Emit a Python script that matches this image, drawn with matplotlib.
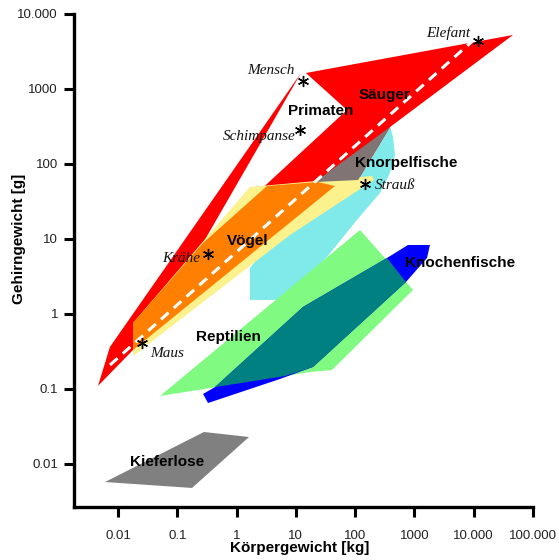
import matplotlib
matplotlib.use("Agg")
import matplotlib.pyplot as plt
from matplotlib.ticker import FixedLocator, NullLocator

# Koerpergewicht [kg] / Gehirngewicht [g] - Eckpunkte der Bereiche
saeuger_kg = [0.0046, 0.0073, 12.2, 0.272, 72.8, 14.8, 45900, 387, 112, 45.7, 0.0179]
saeuger_g = [0.11, 0.363, 1634, 8.85, 525, 1634, 5250, 311, 61.2, 50.9, 0.331]

voegel_kg = [0.0179, 0.0179, 1.68, 192, 208, 7.96]
voegel_g = [0.275, 0.759, 49.4, 69.2, 61.2, 11.3]

# Vögel im Säuger-Bereich (Überlappung)
ueberlapp_vs_kg = [0.0179, 0.0179, 0.272, 3.26, 23.6, 45.7]
ueberlapp_vs_g = [0.331, 0.759, 8.85, 50.9, 57.5, 50.9]

knorpel_kg = [1.68, 5.4, 33.5, 107, 262, 387, 470, 435, 387, 21.0, 1.68]
knorpel_g = [1.54, 1.54, 5.75, 17.9, 41.1, 75.9, 132, 229, 321, 57.5, 4.10]

ueberlapp_ks_kg = [387, 21.0, 112]
ueberlapp_ks_g = [311, 57.5, 61.2]

reptilien_kg = [0.0511, 5.4, 17.3, 40.6, 945, 121]
reptilien_g = [0.0807, 0.1445, 0.1686, 0.179, 2.09, 13.2]

knochen_kg = [0.272, 0.33, 5.4, 19.5, 719, 1630, 1828, 778, 344, 13.2, 0.432]
knochen_g = [0.0858, 0.065, 0.136, 0.197, 2.67, 5.58, 8.32, 8.32, 5.58, 1.24, 0.106]

ueberlapp_rk_kg = [0.432, 13.2, 344, 719, 19.5, 6.56]
ueberlapp_rk_g = [0.106, 1.24, 5.58, 2.67, 0.197, 0.149]

kieferlose_kg = [0.00604, 0.282, 1.62, 0.177]
kieferlose_g = [0.00575, 0.0267, 0.0229, 0.00479]

linie_kg = [0.00733, 11350]
linie_g = [0.209, 4935]

tiere = ["Maus", "Krähe", "Schimpanse", "Mensch", "Elefant", "Strauß"]
tiere_kg = [0.0254, 0.33, 11.7, 13.2, 11800, 147]
tiere_g = [0.41, 6.31, 284, 1280, 4365, 54.1]

gruppen = ["Säuger", "Primaten", "Knorpelfische", "Vögel", "Knochenfische", "Reptilien", "Kieferlose"]

x_ticks = [0.01, 0.1, 1, 10, 100, 1000, 10000, 100000]
x_labels = ["0.01", "0.1", "1", "10", "100", "1000", "10.000", "100.000"]
y_ticks = [0.01, 0.1, 1, 10, 100, 1000, 10000]
y_labels = ["0.01", "0.1", "1", "10", "100", "1000", "10.000"]

sans = ["Liberation Sans", "DejaVu Sans"]
serif = ["Liberation Serif", "DejaVu Serif"]

fig = plt.figure(figsize=(5.59, 5.60), dpi=100)
ax = fig.add_axes([74 / 559, 53 / 560, 459 / 559, 493 / 560])
ax.set_xscale("log")
ax.set_yscale("log")

ax.fill(knorpel_kg, knorpel_g, color="#80eaea", lw=0, zorder=1)
ax.fill(saeuger_kg, saeuger_g, color="#ff0000", lw=0, zorder=2)
ax.fill(voegel_kg, voegel_g, color="#fbf18d", lw=0, zorder=3)
ax.fill(ueberlapp_vs_kg, ueberlapp_vs_g, color="#ff8000", lw=0, zorder=4)
ax.fill(ueberlapp_ks_kg, ueberlapp_ks_g, color="#807474", lw=0, zorder=4)
ax.fill(reptilien_kg, reptilien_g, color="#80fa80", lw=0, zorder=5)
ax.fill(knochen_kg, knochen_g, color="#0000ff", lw=0, zorder=6)
ax.fill(ueberlapp_rk_kg, ueberlapp_rk_g, color="#008080", lw=0, zorder=7)
ax.fill(kieferlose_kg, kieferlose_g, color="#808080", lw=0, zorder=7)

ax.plot(linie_kg, linie_g, color="white", lw=2.2, dashes=(3.3, 2.3), zorder=8)

ax.plot(tiere_kg, tiere_g, ls="none", marker=(6, 2, 0), ms=8, mec="black",
        mew=1.0, color="black", zorder=9)

# Beschriftung der Tiere (Versatz in Pixeln)
versatz = {"Maus": (8, -10, "left"), "Krähe": (-8, -5, "right"),
           "Schimpanse": (-4, -7, "right"), "Mensch": (-8, 10, "right"),
           "Elefant": (-8, 8, "right"), "Strauß": (10, -1, "left")}
for name, kx, gy in zip(tiere, tiere_kg, tiere_g):
    dx, dy, ha = versatz[name]
    ax.annotate(name, (kx, gy), xytext=(dx, dy), textcoords="offset pixels",
                ha=ha, va="center", fontsize=11, style="italic",
                family=serif, color="#111111", zorder=10)

gruppen_pos = [(318, 832), (26.5, 509), (719, 103), (1.56, 9.4),
               (5860, 4.79), (0.716, 0.493), (0.067, 0.0106)]
for name, (kx, gy) in zip(gruppen, gruppen_pos):
    ax.text(kx, gy, name, ha="center", va="center", fontsize=11,
            fontweight="bold", family=sans, color="black", zorder=10)

ax.set_xlim(0.00181, 1e5)
ax.set_ylim(0.00267, 1e4)
ax.xaxis.set_major_locator(FixedLocator(x_ticks))
ax.yaxis.set_major_locator(FixedLocator(y_ticks))
ax.xaxis.set_minor_locator(NullLocator())
ax.yaxis.set_minor_locator(NullLocator())
ax.set_xticklabels(x_labels, family=sans, fontsize=9.5, color="#222222")
ax.set_yticklabels(y_labels, family=sans, fontsize=9.5, color="#222222")
ax.tick_params(axis="x", length=7.5, width=2.2, pad=9)
ax.tick_params(axis="y", length=7.5, width=2.2, pad=4)

for s in ["top", "right"]:
    ax.spines[s].set_visible(False)
for s in ["left", "bottom"]:
    ax.spines[s].set_linewidth(2.4)
    ax.spines[s].set_capstyle("projecting")

ax.set_xlabel("Körpergewicht [kg]", family=sans, fontsize=11, fontweight="bold")
ax.set_ylabel("Gehirngewicht [g]", family=sans, fontsize=11, fontweight="bold")
ax.xaxis.set_label_coords(0.492, -0.069)
ax.yaxis.set_label_coords(-0.105, 0.544)

fig.savefig("out.png", dpi=100)
